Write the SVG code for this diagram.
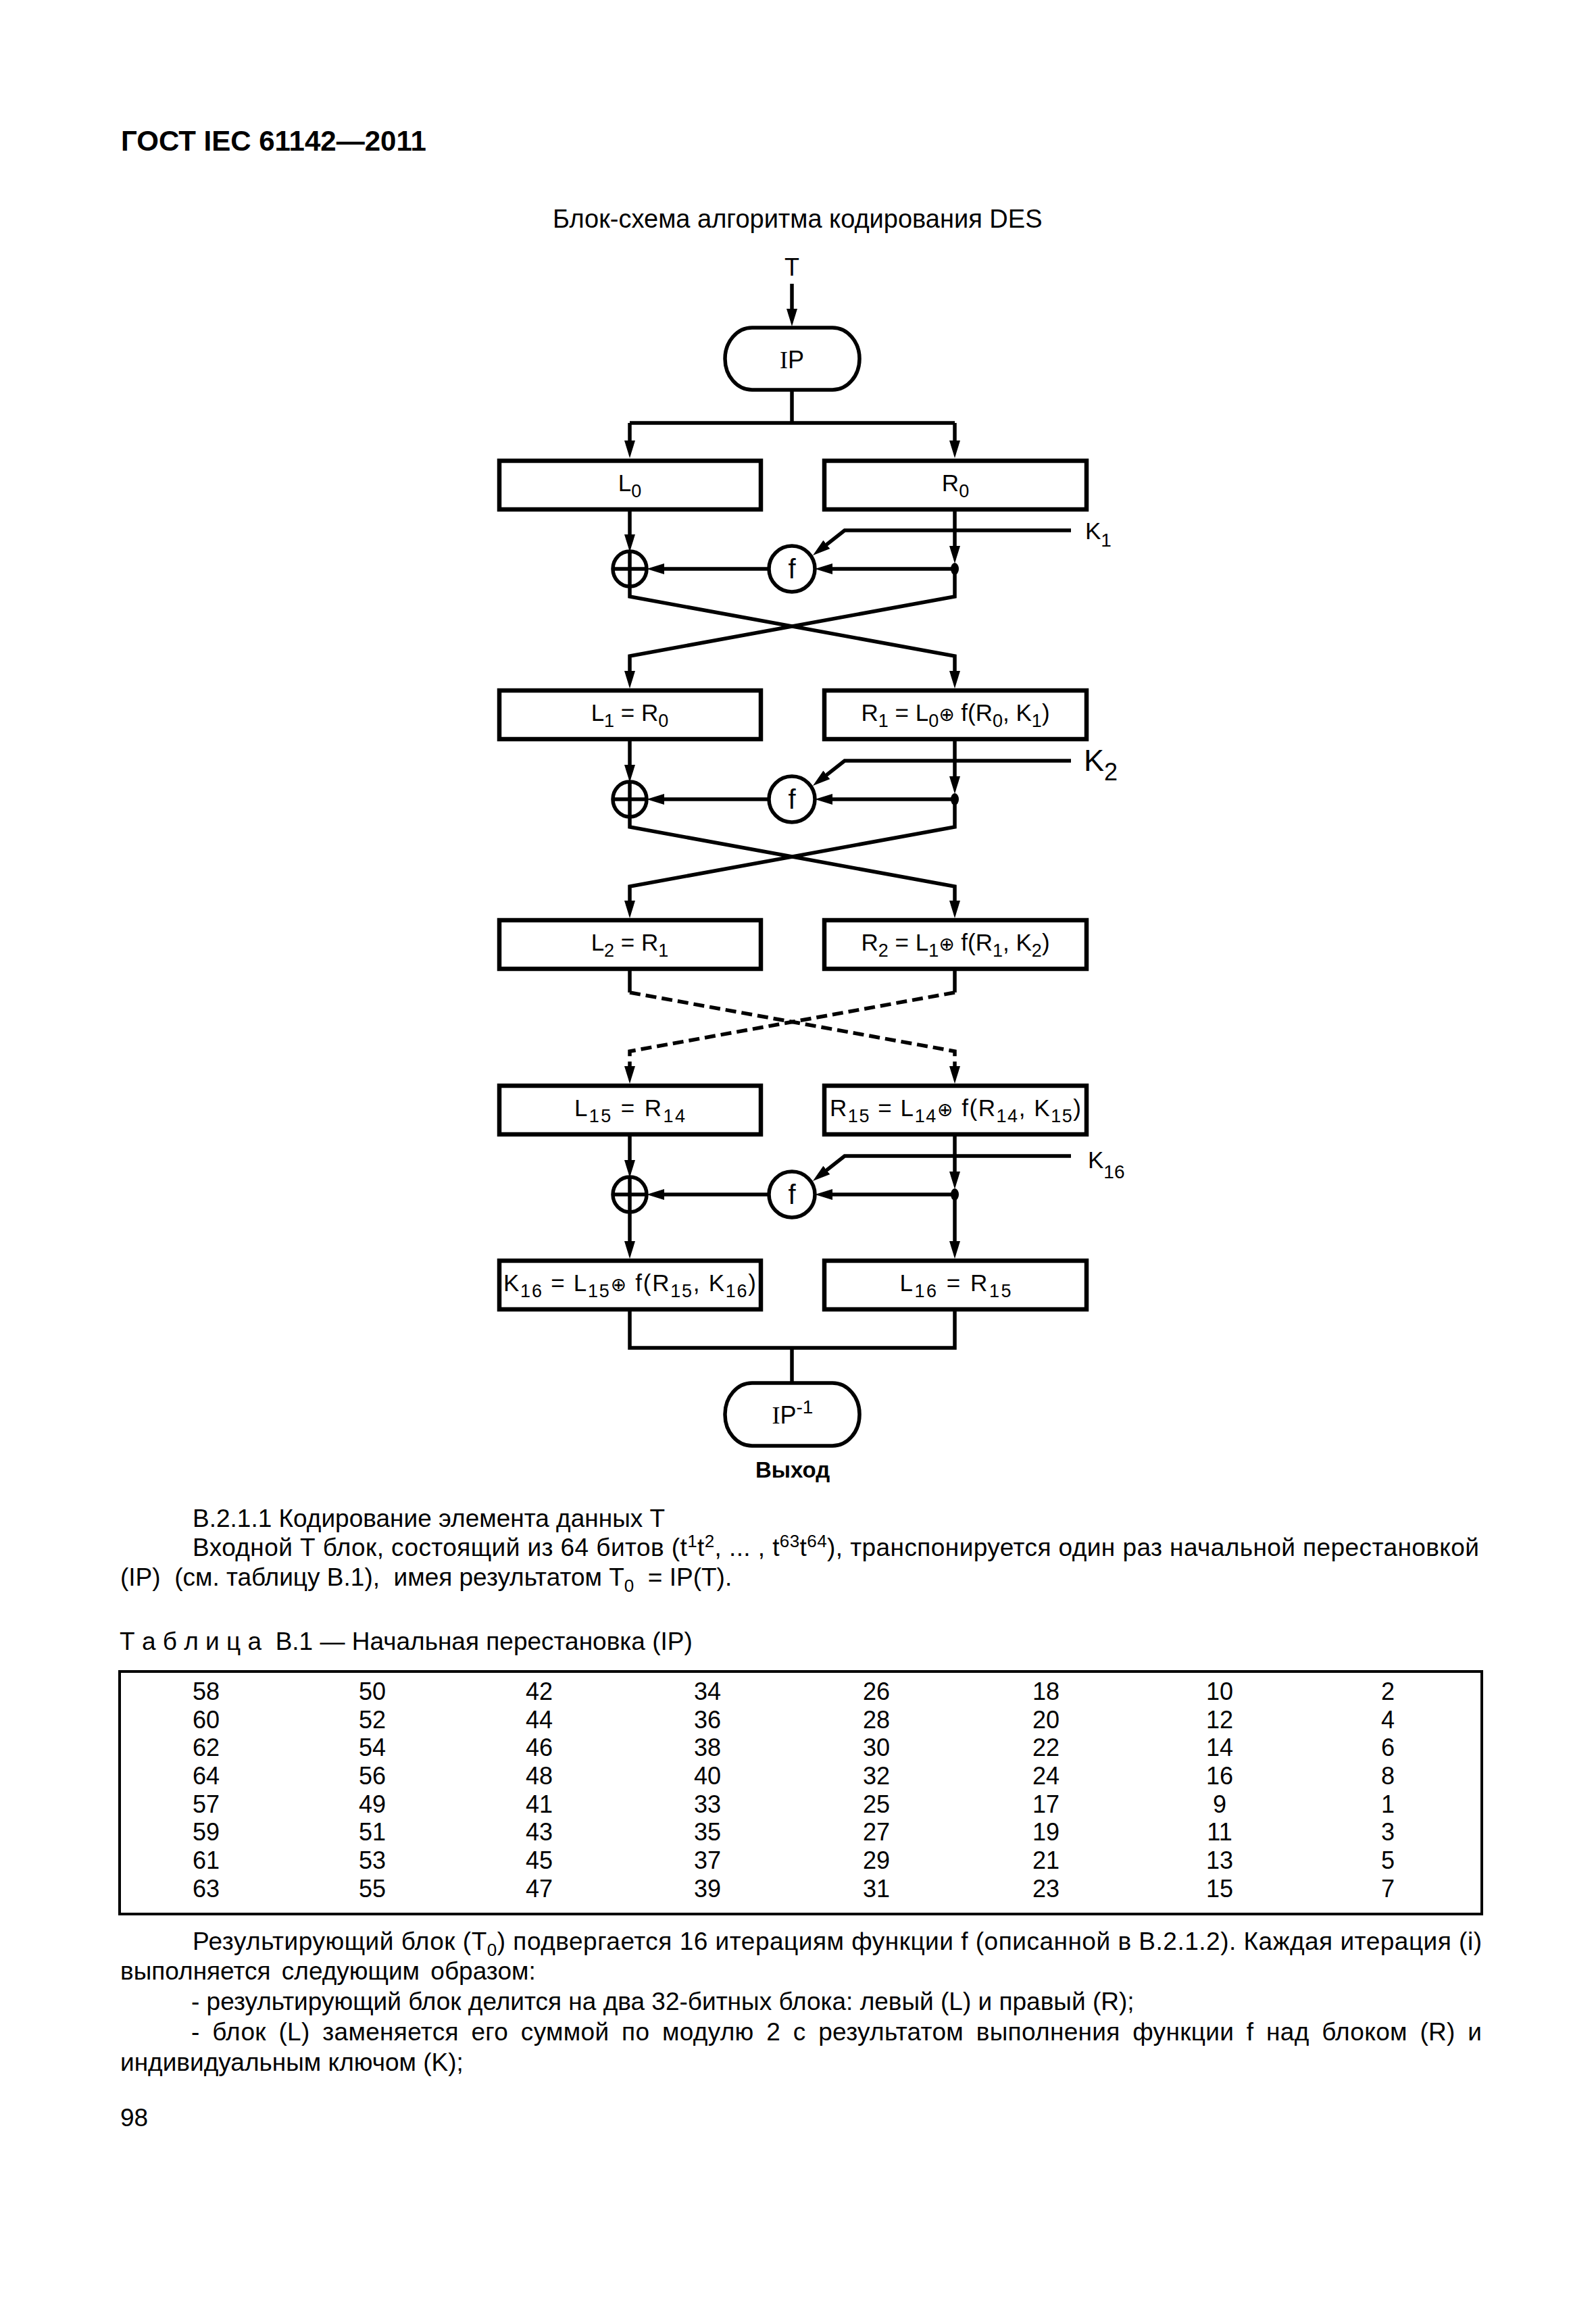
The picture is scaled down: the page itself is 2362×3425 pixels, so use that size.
<svg xmlns="http://www.w3.org/2000/svg" width="2362" height="3425" viewBox="0 0 2362 3425">
<style>
.ln{fill:none;stroke:#000;stroke-width:5.5}
.ar{marker-end:url(#ah)}
.ds{stroke-dasharray:16 8}
.bx{fill:#fff;stroke:#000;stroke-width:6.5}
.cir{fill:#fff;stroke:#000;stroke-width:5.5}
.t{font-family:"Liberation Sans","DejaVu Sans",sans-serif;font-size:35px;fill:#000;text-anchor:middle}
.s{font-size:27px}
.o{font-family:"DejaVu Sans",sans-serif;font-size:28px}
.body{font-family:"Liberation Sans","DejaVu Sans",sans-serif;font-size:37px;fill:#000}
.num{font-family:"Liberation Sans","DejaVu Sans",sans-serif;font-size:36px;fill:#000;text-anchor:middle}
.sup{font-size:26px}
</style>
<defs>
<marker id="ah" viewBox="0 0 26 16" refX="14" refY="8" markerWidth="26" markerHeight="16" markerUnits="userSpaceOnUse" orient="auto"><path d="M0,0 L26,8 L0,16 Z" fill="#000"/></marker>
</defs>
<rect x="0" y="0" width="2362" height="3425" fill="#fff"/>

<text x="179" y="223" class="body" style="font-size:42px;font-weight:bold">ГОСТ IEC 61142—2011</text>
<text x="818" y="337" class="body" style="font-size:38px">Блок-схема алгоритма кодирования DES</text>

<g id="connectors">
<path class="ln ar" d="M1172,420 V471"/>
<path class="ln" d="M1172,577 V626 M932,626 H1413"/>
<path class="ln ar" d="M932,626 V666"/>
<path class="ln ar" d="M1413,626 V666"/>
<!-- round 1 -->
<path class="ln ar" d="M932,757 V805"/>
<path class="ln ar" d="M1413,757 V822"/>
<path class="ln ar" d="M1413,842 H1218"/>
<path class="ln ar" d="M1138,842 H969"/>
<path class="ln ar" d="M1585,785 H1250 L1212.4,814.6"/>
<path class="ln ar" d="M932,867 V883 L1413,971 V1007"/>
<path class="ln ar" d="M1413,838 V883 L932,971 V1007"/>
<!-- round 2 -->
<path class="ln ar" d="M932,1097 V1146"/>
<path class="ln ar" d="M1413,1097 V1163"/>
<path class="ln ar" d="M1413,1183 H1218"/>
<path class="ln ar" d="M1138,1183 H969"/>
<path class="ln ar" d="M1585,1126 H1250 L1212.4,1155.6"/>
<path class="ln ar" d="M932,1208 V1224 L1413,1312 V1347"/>
<path class="ln ar" d="M1413,1179 V1224 L932,1312 V1347"/>
<!-- round 3 dashed -->
<path class="ln" d="M932,1437 V1469 M1413,1437 V1469"/>
<path class="ln ar ds" d="M932,1469 L1413,1556 V1592"/>
<path class="ln ar ds" d="M1413,1469 L932,1556 V1592"/>
<!-- round 16 -->
<path class="ln ar" d="M932,1682 V1731"/>
<path class="ln ar" d="M1413,1682 V1748"/>
<path class="ln ar" d="M1413,1768 H1218"/>
<path class="ln ar" d="M1138,1768 H969"/>
<path class="ln ar" d="M1585,1711 H1250 L1212.4,1740.6"/>
<path class="ln ar" d="M932,1793 V1851"/>
<path class="ln ar" d="M1413,1764 V1851"/>
<!-- output -->
<path class="ln" d="M932,1941 V1995 H1413 V1941 M1172,1995 V2047"/>
</g>

<g id="n-T"><text x="1172" y="408" class="t" style="font-size:36px">T</text></g>
<g id="n-IP">
<rect x="1073" y="485" width="199" height="92" rx="40" ry="46" class="cir"/>
<text x="1172" y="545" class="t" style="font-size:36px"><tspan font-family="Liberation Serif">I</tspan>P</text>
</g>

<g id="n-L0"><rect x="739" y="682" width="387" height="72" class="bx"/><text x="932" y="727" class="t">L<tspan class="s" dy="9">0</tspan></text></g>
<g id="n-R0"><rect x="1220" y="682" width="388" height="72" class="bx"/><text x="1414" y="727" class="t">R<tspan class="s" dy="9">0</tspan></text></g>
<g id="n-xor1"><ellipse cx="932" cy="842" rx="25" ry="26" class="cir"/><path class="ln" d="M907,842 H957 M932,816 V868"/></g>
<g id="n-f1"><circle cx="1172" cy="842" r="34" class="cir"/><text x="1172" y="856" class="t" style="font-size:40px">f</text></g>
<g id="n-dot1"><ellipse cx="1413" cy="842" rx="6" ry="9" fill="#000"/></g>
<g id="n-K1"><text x="1606" y="798" class="body" style="font-size:35px">K<tspan dy="11" style="font-size:28px">1</tspan></text></g>

<g id="n-L1"><rect x="739" y="1022" width="387" height="72" class="bx"/><text x="932" y="1067" class="t">L<tspan class="s" dy="9">1</tspan><tspan dy="-9"> = R</tspan><tspan class="s" dy="9">0</tspan></text></g>
<g id="n-R1"><rect x="1220" y="1022" width="388" height="72" class="bx"/><text x="1414" y="1067" class="t">R<tspan class="s" dy="9">1</tspan><tspan dy="-9"> = L</tspan><tspan class="s" dy="9">0</tspan><tspan class="o" dy="-9">⊕</tspan><tspan> f(R</tspan><tspan class="s" dy="9">0</tspan><tspan dy="-9">, K</tspan><tspan class="s" dy="9">1</tspan><tspan dy="-9">)</tspan></text></g>
<g id="n-xor2"><ellipse cx="932" cy="1183" rx="25" ry="26" class="cir"/><path class="ln" d="M907,1183 H957 M932,1157 V1209"/></g>
<g id="n-f2"><circle cx="1172" cy="1183" r="34" class="cir"/><text x="1172" y="1197" class="t" style="font-size:40px">f</text></g>
<g id="n-dot2"><ellipse cx="1413" cy="1183" rx="6" ry="9" fill="#000"/></g>
<g id="n-K2"><text x="1604" y="1141" class="body" style="font-size:45px">K<tspan dy="14" style="font-size:36px">2</tspan></text></g>

<g id="n-L2"><rect x="739" y="1362" width="387" height="72" class="bx"/><text x="932" y="1407" class="t">L<tspan class="s" dy="9">2</tspan><tspan dy="-9"> = R</tspan><tspan class="s" dy="9">1</tspan></text></g>
<g id="n-R2"><rect x="1220" y="1362" width="388" height="72" class="bx"/><text x="1414" y="1407" class="t">R<tspan class="s" dy="9">2</tspan><tspan dy="-9"> = L</tspan><tspan class="s" dy="9">1</tspan><tspan class="o" dy="-9">⊕</tspan><tspan> f(R</tspan><tspan class="s" dy="9">1</tspan><tspan dy="-9">, K</tspan><tspan class="s" dy="9">2</tspan><tspan dy="-9">)</tspan></text></g>

<g id="n-L15"><rect x="739" y="1607" width="387" height="72" class="bx"/><text x="932" y="1652" class="t" textLength="164" lengthAdjust="spacing">L<tspan class="s" dy="9">15</tspan><tspan dy="-9"> = R</tspan><tspan class="s" dy="9">14</tspan></text></g>
<g id="n-R15"><rect x="1220" y="1607" width="388" height="72" class="bx"/><text x="1414" y="1652" class="t" textLength="372" lengthAdjust="spacing">R<tspan class="s" dy="9">15</tspan><tspan dy="-9"> = L</tspan><tspan class="s" dy="9">14</tspan><tspan class="o" dy="-9">⊕</tspan><tspan> f(R</tspan><tspan class="s" dy="9">14</tspan><tspan dy="-9">, K</tspan><tspan class="s" dy="9">15</tspan><tspan dy="-9">)</tspan></text></g>
<g id="n-xor16"><ellipse cx="932" cy="1768" rx="25" ry="26" class="cir"/><path class="ln" d="M907,1768 H957 M932,1742 V1794"/></g>
<g id="n-f16"><circle cx="1172" cy="1768" r="34" class="cir"/><text x="1172" y="1782" class="t" style="font-size:40px">f</text></g>
<g id="n-dot16"><ellipse cx="1413" cy="1768" rx="6" ry="9" fill="#000"/></g>
<g id="n-K16"><text x="1610" y="1729" class="body" style="font-size:35px">K<tspan dy="15" style="font-size:28px">16</tspan></text></g>

<g id="n-K16box"><rect x="739" y="1866" width="387" height="72" class="bx"/><text x="932" y="1911" class="t" textLength="374" lengthAdjust="spacing">K<tspan class="s" dy="9">16</tspan><tspan dy="-9"> = L</tspan><tspan class="s" dy="9">15</tspan><tspan class="o" dy="-9">⊕</tspan><tspan> f(R</tspan><tspan class="s" dy="9">15</tspan><tspan dy="-9">, K</tspan><tspan class="s" dy="9">16</tspan><tspan dy="-9">)</tspan></text></g>
<g id="n-L16"><rect x="1220" y="1866" width="388" height="72" class="bx"/><text x="1414" y="1911" class="t" textLength="165" lengthAdjust="spacing">L<tspan class="s" dy="9">16</tspan><tspan dy="-9"> = R</tspan><tspan class="s" dy="9">15</tspan></text></g>

<g id="n-IPinv">
<rect x="1073" y="2047" width="199" height="93" rx="40" ry="46" class="cir"/>
<text x="1173" y="2107" class="t" style="font-size:36px"><tspan font-family="Liberation Serif">I</tspan>P<tspan dy="-15" style="font-size:28px">-1</tspan></text>
</g>
<g id="n-out"><text x="1173" y="2187" class="t" style="font-size:33px;font-weight:bold">Выход</text></g>

<g id="text">
<text x="285" y="2260" class="body">В.2.1.1 Кодирование элемента данных Т</text>
<text x="285" y="2303" class="body" textLength="1904" lengthAdjust="spacing">Входной Т блок, состоящий из 64 битов (t<tspan class="sup" dy="-13">1</tspan><tspan dy="13">t</tspan><tspan class="sup" dy="-13">2</tspan><tspan dy="13">, ... , t</tspan><tspan class="sup" dy="-13">63</tspan><tspan dy="13">t</tspan><tspan class="sup" dy="-13">64</tspan><tspan dy="13">), транспонируется один раз начальной перестановкой</tspan></text>
<text x="178" y="2347" class="body" xml:space="preserve" style="white-space:pre">(IP)  (см. таблицу В.1),  имея результатом Т<tspan class="sup" dy="9">0</tspan><tspan dy="-9">  = IP(Т).</tspan></text>
<text x="177" y="2442" class="body" xml:space="preserve" style="white-space:pre">Т а б л и ц а  В.1 — Начальная перестановка (IP)</text>

<rect x="177" y="2474" width="2016" height="359" fill="none" stroke="#000" stroke-width="4"/>
</g>

<g id="table-numbers">
<text y="2516" class="num"><tspan x="305">58</tspan><tspan x="551">50</tspan><tspan x="798">42</tspan><tspan x="1047">34</tspan><tspan x="1297">26</tspan><tspan x="1548">18</tspan><tspan x="1805">10</tspan><tspan x="2054">2</tspan></text>
<text y="2558" class="num"><tspan x="305">60</tspan><tspan x="551">52</tspan><tspan x="798">44</tspan><tspan x="1047">36</tspan><tspan x="1297">28</tspan><tspan x="1548">20</tspan><tspan x="1805">12</tspan><tspan x="2054">4</tspan></text>
<text y="2599" class="num"><tspan x="305">62</tspan><tspan x="551">54</tspan><tspan x="798">46</tspan><tspan x="1047">38</tspan><tspan x="1297">30</tspan><tspan x="1548">22</tspan><tspan x="1805">14</tspan><tspan x="2054">6</tspan></text>
<text y="2641" class="num"><tspan x="305">64</tspan><tspan x="551">56</tspan><tspan x="798">48</tspan><tspan x="1047">40</tspan><tspan x="1297">32</tspan><tspan x="1548">24</tspan><tspan x="1805">16</tspan><tspan x="2054">8</tspan></text>
<text y="2683" class="num"><tspan x="305">57</tspan><tspan x="551">49</tspan><tspan x="798">41</tspan><tspan x="1047">33</tspan><tspan x="1297">25</tspan><tspan x="1548">17</tspan><tspan x="1805">9</tspan><tspan x="2054">1</tspan></text>
<text y="2724" class="num"><tspan x="305">59</tspan><tspan x="551">51</tspan><tspan x="798">43</tspan><tspan x="1047">35</tspan><tspan x="1297">27</tspan><tspan x="1548">19</tspan><tspan x="1805">11</tspan><tspan x="2054">3</tspan></text>
<text y="2766" class="num"><tspan x="305">61</tspan><tspan x="551">53</tspan><tspan x="798">45</tspan><tspan x="1047">37</tspan><tspan x="1297">29</tspan><tspan x="1548">21</tspan><tspan x="1805">13</tspan><tspan x="2054">5</tspan></text>
<text y="2808" class="num"><tspan x="305">63</tspan><tspan x="551">55</tspan><tspan x="798">47</tspan><tspan x="1047">39</tspan><tspan x="1297">31</tspan><tspan x="1548">23</tspan><tspan x="1805">15</tspan><tspan x="2054">7</tspan></text>
</g>

<g id="text2">
<text x="285" y="2886" class="body" textLength="1908" lengthAdjust="spacing">Результирующий блок (Т<tspan class="sup" dy="9">0</tspan><tspan dy="-9">) подвергается 16 итерациям функции f (описанной в В.2.1.2). Каждая итерация (i)</tspan></text>
<text x="178" y="2930" class="body" style="word-spacing:6px">выполняется следующим образом:</text>
<text x="283" y="2975" class="body">- результирующий блок делится на два 32-битных блока: левый (L) и правый (R);</text>
<text x="283" y="3020" class="body" style="word-spacing:8px" textLength="1910" lengthAdjust="spacing">- блок (L) заменяется его суммой по модулю 2 с результатом выполнения функции f над блоком (R) и</text>
<text x="178" y="3065" class="body">индивидуальным ключом (K);</text>
<text x="178" y="3147" class="body">98</text>
</g>
</svg>
